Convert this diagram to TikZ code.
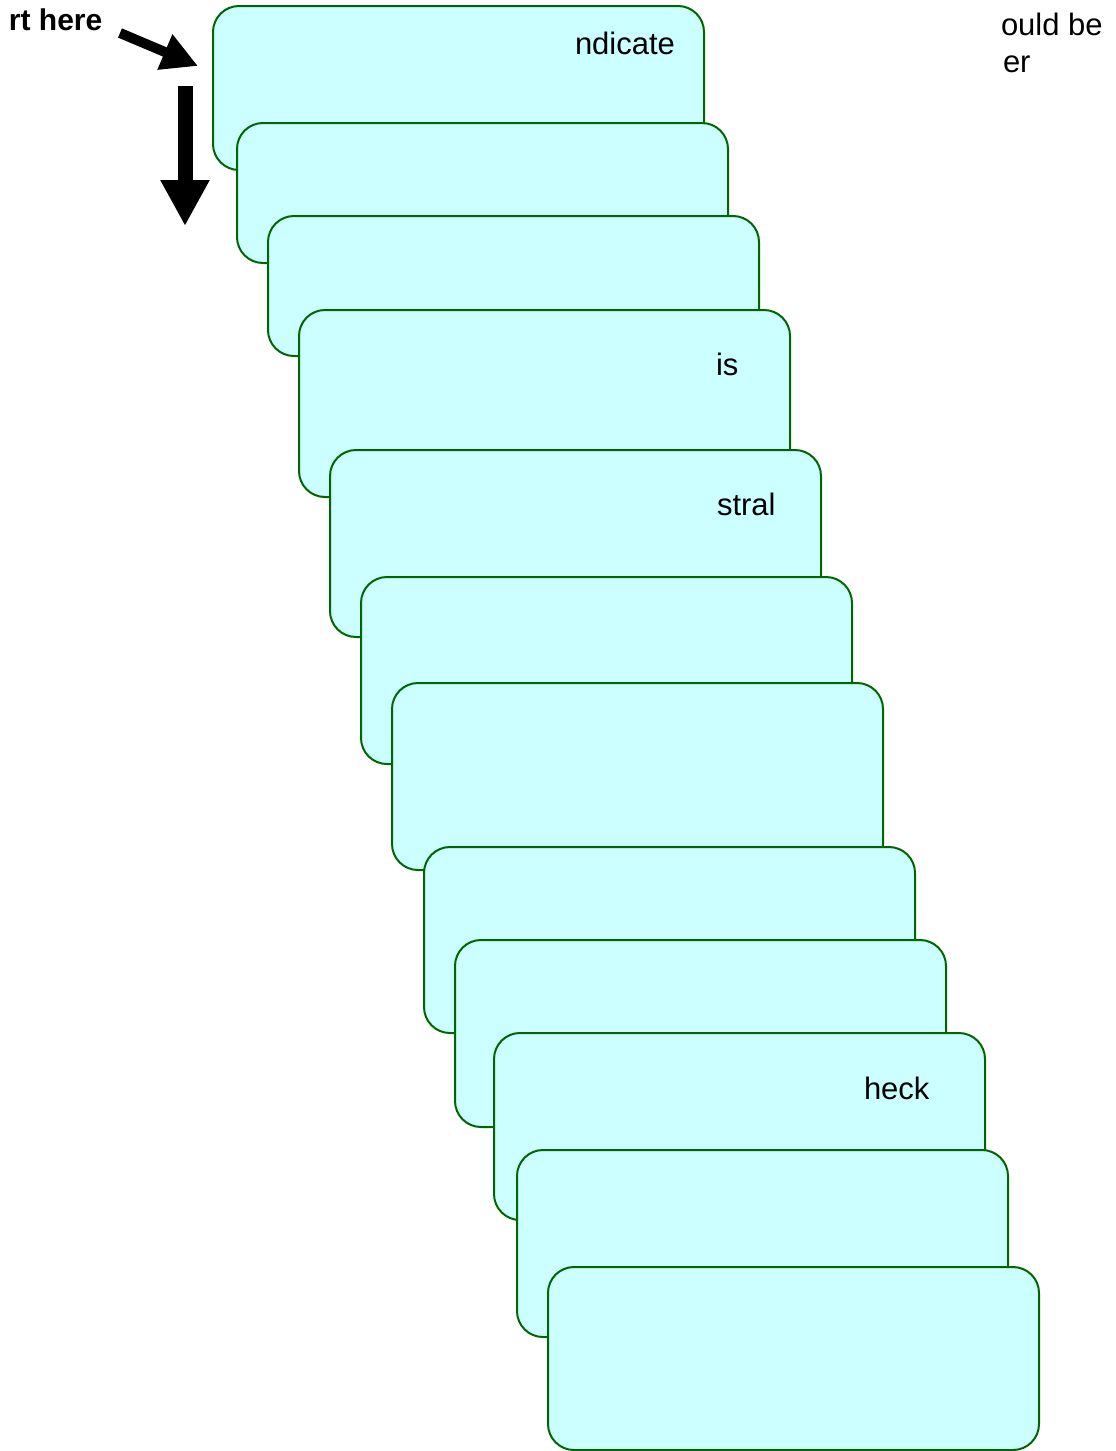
\documentclass[tikz,border=0pt]{standalone}
\usepackage{fontspec}
\setmainfont{Liberation Sans}
\usetikzlibrary{arrows.meta}
\definecolor{boxfill}{HTML}{CCFFFF}
\definecolor{boxline}{HTML}{006600}
\begin{document}
\begin{tikzpicture}[x=1pt,y=-1pt,
  card/.style={draw=boxline, fill=boxfill, line width=2pt, rounded corners=26pt,
    anchor=north west, minimum width=491pt, inner sep=0pt, outer sep=0pt},
  lbl/.style={anchor=base west, inner sep=0pt, outer sep=0pt, text=black,
    font=\fontsize{31}{36}\selectfont},
  blockarrow/.style={draw=black, line width=#1}
]
\useasboundingbox (0,0) rectangle (1116,1451);

% start label and arrows
\node[lbl, font=\fontsize{30}{36}\selectfont\bfseries] (start) at (9,30) {rt here};
\coordinate (a1s) at (120,33);
\coordinate (a1e) at (198,66);
\draw[blockarrow=10pt, -{Triangle[length=36pt,width=36pt]}] (a1s) -- (a1e);
\coordinate (a2s) at (185,86);
\coordinate (a2e) at (185,226);
\draw[blockarrow=15pt, -{Triangle[length=46pt,width=46pt]}] (a2s) -- (a2e);

% cards
\node[card, minimum height=164pt] (b1) at (213,6) {};
\node[lbl] (t1) at (575,54) {ndicate};
\node[card, minimum height=140pt] (b2) at (237,123) {};
\node[card, minimum height=140pt] (b3) at (268,216) {};
\node[card, minimum height=187pt] (b4) at (299,310) {};
\node[lbl] (t4) at (716,375) {is};
\node[card, minimum height=187pt] (b5) at (330,450) {};
\node[lbl] (t5) at (717,515) {stral};
\node[card, minimum height=187pt] (b6) at (361,577) {};
\node[card, minimum height=187pt] (b7) at (392,683) {};
\node[card, minimum height=186pt] (b8) at (424,847) {};
\node[card, minimum height=187pt] (b9) at (455,940) {};
\node[card, minimum height=187pt] (b10) at (494,1033) {};
\node[lbl] (t10) at (864,1099) {heck};
\node[card, minimum height=187pt] (b11) at (517,1150) {};
\node[card, minimum height=183pt] (b12) at (548,1267) {};

% top right text
\node[lbl] (n1) at (1001,35) {ould be};
\node[lbl] (n2) at (1003,72) {er};
\end{tikzpicture}
\end{document}
